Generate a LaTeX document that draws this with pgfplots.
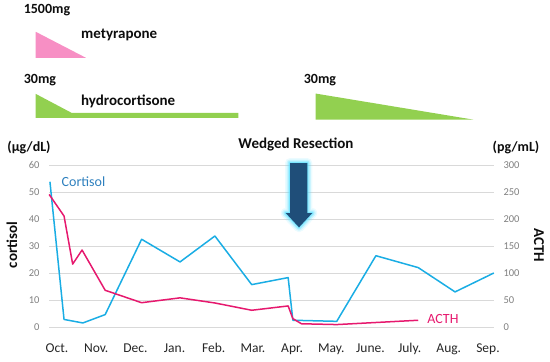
\documentclass[border=0pt]{standalone}
\usepackage{pgfplots}
\pgfplotsset{compat=1.18}
\usepackage{fontspec}
\setmainfont{Carlito}
\definecolor{bluel}{HTML}{1AADE4}
\definecolor{pinkl}{HTML}{E6196E}
\definecolor{cortlab}{HTML}{2E80BE}
\definecolor{metyr}{HTML}{F78FC4}
\definecolor{hcgreen}{HTML}{92D050}
\definecolor{arrowblue}{HTML}{1F4E79}
\definecolor{glow}{HTML}{5EE0FF}
\definecolor{tickgray}{HTML}{808080}
\definecolor{gridgray}{HTML}{D9D9D9}
\pgfplotsset{base/.style={at={(49bp,-327bp)}, anchor=south west, scale only axis,
  width=445bp, height=162bp, xmin=-0.204, xmax=11.154, clip=false,
  /pgf/number format/assume math mode=true,
  tick style={draw=none}, axis line style={draw=none}}}
\begin{document}
\begin{tikzpicture}
\useasboundingbox (0,0) rectangle (550bp,-362bp);
\begin{axis}[base, ymin=0, ymax=60, ytick={0,10,...,60}, ymajorgrids,
  grid style={gridgray, line width=0.8bp},
  xtick={0,...,11},
  xticklabels={Oct.,Nov.,Dec.,Jan.,Feb.,Mar.,Apr.,May.,June.,July.,Aug.,Sep.},
  xticklabel style={font=\fontsize{13.5bp}{14bp}\selectfont, text=black!85, yshift=-13bp},
  yticklabel style={font=\fontsize{10.5bp}{12bp}\selectfont, text=tickgray, xshift=-6bp}]
% dosing schedules (drawn in axis units above the plot box)
\addplot[fill=metyr, draw=none, forget plot] coordinates {(-0.544,109.35) (-0.544,99.70) (0.740,99.70)} -- cycle;
\addplot[fill=hcgreen, draw=none, forget plot] coordinates {(-0.544,86.35) (0.375,79.30) (4.627,79.30) (4.627,77.44) (-0.544,77.44)} -- cycle;
\addplot[fill=hcgreen, draw=none, forget plot] coordinates {(6.603,86.46) (6.603,76.81) (10.625,76.81)} -- cycle;
% cortisol
\addplot[bluel, line width=1.5bp, line join=round] coordinates {
(-0.18,53.8) (0.18,2.8) (0.66,1.5) (1.23,4.6) (2.16,32.5) (3.14,24.1) (4.03,33.7) (4.97,15.7) (5.90,18.3) (6.02,2.5) (7.14,2.1) (8.14,26.4) (9.22,22.0) (10.16,13.0) (11.15,20.0)};
\end{axis}
\begin{axis}[base, ymin=0, ymax=300, ytick={0,50,...,300}, yticklabel pos=right,
  xtick=\empty,
  yticklabel style={font=\fontsize{10.5bp}{12bp}\selectfont, text=tickgray, xshift=6bp}]
% ACTH
\addplot[pinkl, line width=1.5bp, line join=round] coordinates {
(-0.2,245.5) (0.18,205.5) (0.40,116.5) (0.64,142.5) (1.23,68) (2.16,45) (3.14,54) (4.03,44.5) (4.97,31) (5.90,39) (6.02,15.5) (6.24,6) (7.14,4.5) (9.22,12.5)};
\end{axis}
% arrow with glow
\foreach \w/\o in {10/0.12, 7/0.22, 4.5/0.35, 2/0.6} {
  \draw[glow, line width=\w bp, opacity=\o, line join=round] (290bp,-163bp) -- (307.3bp,-163bp) -- (307.3bp,-213bp) -- (312.3bp,-213bp) -- (299bp,-227.3bp) -- (285.7bp,-213bp) -- (290bp,-213bp) -- cycle;
}
\fill[arrowblue] (290bp,-163bp) -- (307.3bp,-163bp) -- (307.3bp,-213bp) -- (312.3bp,-213bp) -- (299bp,-227.3bp) -- (285.7bp,-213bp) -- (290bp,-213bp) -- cycle;
% texts
\tikzset{lab/.style={inner sep=0pt, text=black!95}}
\node[lab, font=\fontsize{14bp}{16bp}\selectfont\bfseries] at (47bp,-10.5bp) {1500mg};
\node[lab, anchor=west, font=\fontsize{15bp}{17bp}\selectfont\bfseries] at (81bp,-35bp) {metyrapone};
\node[lab, font=\fontsize{14bp}{16bp}\selectfont\bfseries] at (40bp,-80bp) {30mg};
\node[lab, anchor=west, font=\fontsize{15bp}{17bp}\selectfont\bfseries] at (81bp,-101.7bp) {hydrocortisone};
\node[lab, font=\fontsize{14bp}{16bp}\selectfont\bfseries] at (320bp,-80bp) {30mg};
\node[lab, font=\fontsize{14bp}{16bp}\selectfont\bfseries] at (29bp,-147bp) {(μg/dL)};
\node[lab, font=\fontsize{14bp}{16bp}\selectfont\bfseries] at (516bp,-147bp) {(pg/mL)};
\node[lab, font=\fontsize{15bp}{17bp}\selectfont\bfseries] at (296bp,-144bp) {Wedged Resection};
\node[lab, rotate=90, font=\fontsize{15bp}{17bp}\selectfont\bfseries] at (12bp,-245bp) {cortisol};
\node[lab, rotate=-90, font=\fontsize{15bp}{17bp}\selectfont\bfseries] at (539bp,-245bp) {ACTH};
\node[inner sep=0pt, text=cortlab, font=\fontsize{14bp}{16bp}\selectfont] at (83.5bp,-182bp) {Cortisol};
\node[inner sep=0pt, text=pinkl, font=\fontsize{14bp}{16bp}\selectfont] at (443bp,-319bp) {ACTH};
\end{tikzpicture}
\end{document}
